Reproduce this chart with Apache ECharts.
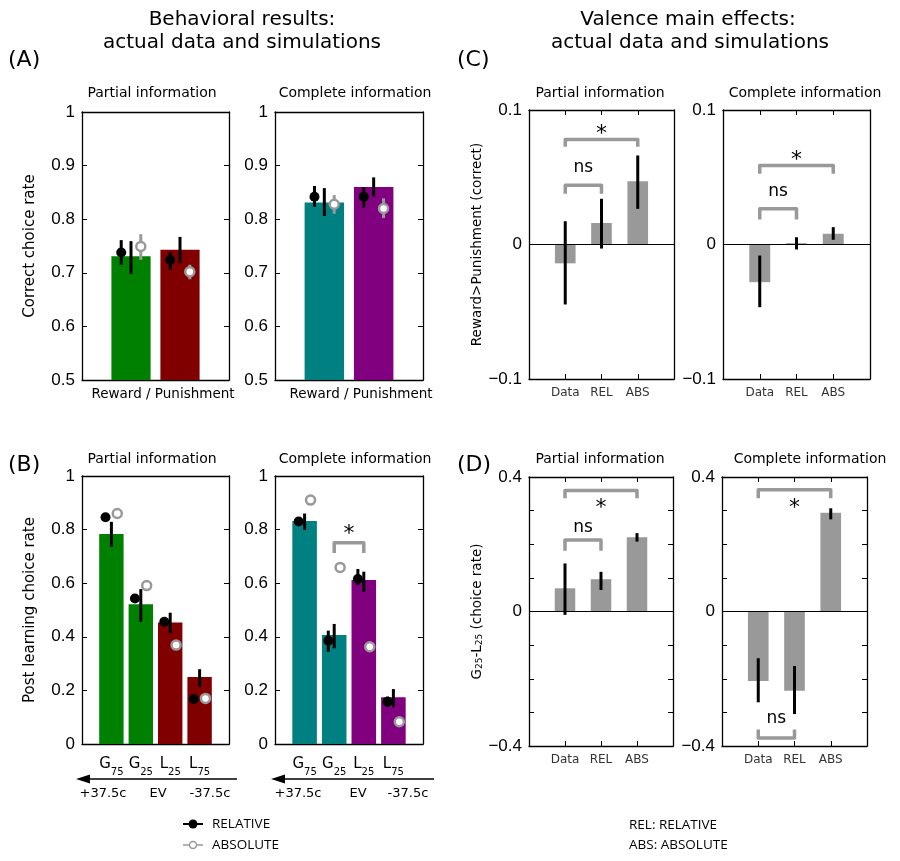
<!DOCTYPE html>
<html>
<head>
<meta charset="utf-8">
<script src="https://cdn.jsdelivr.net/npm/echarts@6/dist/echarts.min.js"></script>
<style>html,body{margin:0;padding:0;background:#fff;}#c{width:900px;height:861px;}</style>
</head>
<body>
<div id="c"></div>
<script>
// ---------------- DATA ----------------
// Panel A: correct choice rate (Reward / Punishment)
const aPartialBars   = [0.731, 0.743];
const aPartialBarErr = [[0.698, 0.759], [0.718, 0.767]];
const aPartialRel    = [0.738, 0.724];
const aPartialRelErr = [[0.715, 0.761], [0.705, 0.739]];
const aPartialAbs    = [0.749, 0.702];
const aPartialAbsErr = [[0.724, 0.772], [0.688, 0.715]];

const aCompleteBars   = [0.831, 0.860];
const aCompleteBarErr = [[0.806, 0.858], [0.842, 0.878]];
const aCompleteRel    = [0.842, 0.842];
const aCompleteRelErr = [[0.823, 0.862], [0.822, 0.860]];
const aCompleteAbs    = [0.828, 0.820];
const aCompleteAbsErr = [[0.810, 0.845], [0.802, 0.839]];

// Panel B: post learning choice rate (G75, G25, L25, L75)
const bCategories     = [['G', '75'], ['G', '25'], ['L', '25'], ['L', '75']];
const bPartialBars    = [0.784, 0.521, 0.453, 0.250];
const bPartialBarErr  = [[0.736, 0.829], [0.456, 0.578], [0.413, 0.490], [0.214, 0.279]];
const bPartialRel     = [0.846, 0.543, 0.456, 0.168];
const bPartialAbs     = [0.860, 0.591, 0.369, 0.170];

const bCompleteBars   = [0.832, 0.407, 0.612, 0.174];
const bCompleteBarErr = [[0.799, 0.860], [0.357, 0.448], [0.568, 0.643], [0.137, 0.205]];
const bCompleteRel    = [0.830, 0.385, 0.616, 0.158];
const bCompleteRelErr = [[0.815, 0.845], [0.344, 0.423], [0.593, 0.653], [0.139, 0.177]];
const bCompleteAbs    = [0.910, 0.659, 0.363, 0.083];

// Panels C/D: Data, REL, ABS
const cdCategories   = ['Data', 'REL', 'ABS'];
const cPartial       = [-0.014, 0.016, 0.047];
const cPartialErr    = [[-0.0446, 0.0173], [-0.003, 0.034], [0.0265, 0.0662]];
const cComplete      = [-0.028, 0.001, 0.008];
const cCompleteErr   = [[-0.0466, -0.0082], [-0.0037, 0.0054], [0.0035, 0.0129]];
const dPartial       = [0.069, 0.096, 0.221];
const dPartialErr    = [[-0.010, 0.143], [0.064, 0.118], [0.208, 0.233]];
const dComplete      = [-0.207, -0.236, 0.294];
const dCompleteErr   = [[-0.270, -0.139], [-0.305, -0.162], [0.274, 0.307]];

// Significance brackets: [fromCat, toCat, barLevel, legEnd, textLevel], labels
const bCompleteSig   = [[2, 3, 0.751, 0.713, 0.800]];
const bCompleteSigTx = ['*'];
const cPartialSig    = [[1, 2, 0.044, 0.0377, 0.057], [1, 3, 0.078, 0.0727, 0.086]];
const cPartialSigTx  = ['ns', '*'];
const cCompleteSig   = [[1, 2, 0.0265, 0.0186, 0.039], [1, 3, 0.0587, 0.0526, 0.066]];
const cCompleteSigTx = ['ns', '*'];
const dPartialSig    = [[1, 2, 0.213, 0.181, 0.250], [1, 3, 0.360, 0.337, 0.322]];
const dPartialSigTx  = ['ns', '*'];
const dCompleteSig   = [[1, 3, 0.362, 0.337, 0.322], [1, 2, -0.376, -0.351, -0.318]];
const dCompleteSigTx = ['*', 'ns'];

// ---------------- STYLE ----------------
const FONT = "'DejaVu Sans', sans-serif";
const NUMFONT = "'Liberation Sans', Arial, sans-serif";
const SANS2 = "'Open Sans', 'Noto Sans', sans-serif";
const GREEN = '#008000', RED = '#800000', TEAL = '#008080', PURPLE = '#800080';
const GREY = '#999999', BARGREY = '#999999';

const grids = [
  {left: 82,  top: 112, width: 147, height: 268},
  {left: 275, top: 112, width: 148, height: 268},
  {left: 82,  top: 476, width: 147, height: 268},
  {left: 275, top: 476, width: 148, height: 268},
  {left: 529, top: 110, width: 145, height: 269},
  {left: 723, top: 110, width: 147, height: 269},
  {left: 529, top: 477, width: 144, height: 269},
  {left: 722, top: 477, width: 145, height: 269}
];

const xAxes = [], yAxes = [], series = [];

function near(a, b) { return Math.abs(a - b) < 1e-9; }

function addAxes(gi, xmax, ymin, ymax, yint, yFmt, xFmt, xTicks, yName, yNameGap, yNameSize, yRich) {
  const line = {show: true, onZero: false, lineStyle: {color: '#000', width: 1.3}};
  xAxes.push({gridIndex: gi, type: 'value', position: 'bottom', min: 0, max: xmax, interval: 1,
    axisLine: line, splitLine: {show: false},
    axisTick: {show: xTicks, inside: true, length: 5, lineStyle: {color: '#000'}},
    axisLabel: {show: !!xFmt, formatter: xFmt || (() => ''), margin: 8, color: '#333', fontFamily: FONT, fontSize: 12,
      rich: {m: {fontFamily: FONT, fontSize: 15, color: '#000', verticalAlign: 'bottom', lineHeight: 20},
             s: {fontFamily: FONT, fontSize: 10, color: '#000', verticalAlign: 'bottom', lineHeight: 20, padding: [0, 0, -5, 0]}}}
  });
  xAxes.push({gridIndex: gi, type: 'value', position: 'top', min: 0, max: xmax, interval: 1,
    axisLine: line, splitLine: {show: false},
    axisTick: {show: xTicks, inside: true, length: 5, lineStyle: {color: '#000'}},
    axisLabel: {show: false}
  });
  yAxes.push({gridIndex: gi, type: 'value', position: 'left', min: ymin, max: ymax, interval: yint,
    axisLine: line, splitLine: {show: false},
    axisTick: {show: true, inside: true, length: 5, lineStyle: {color: '#000'}},
    axisLabel: {formatter: yFmt, margin: 7, color: '#000', fontFamily: NUMFONT, fontSize: 17},
    name: yName, nameLocation: 'middle', nameRotate: 90, nameGap: yNameGap,
    nameTextStyle: {fontFamily: FONT, fontSize: yNameSize, color: '#000', rich: yRich}
  });
  yAxes.push({gridIndex: gi, type: 'value', position: 'right', min: ymin, max: ymax, interval: yint,
    axisLine: line, splitLine: {show: false},
    axisTick: {show: true, inside: true, length: 5, lineStyle: {color: '#000'}},
    axisLabel: {show: false}
  });
}

function idx(gi) { return {xAxisIndex: 2 * gi, yAxisIndex: 2 * gi}; }

function addBars(gi, values, colors, width, base) {
  series.push(Object.assign({
    type: 'custom', z: 2,
    data: values.map((v, i) => [i + 1, v]),
    renderItem: function (params, api) {
      const x = api.value(0), y = api.value(1);
      const p1 = api.coord([x - width / 2, y]);
      const p0 = api.coord([x + width / 2, base]);
      return {type: 'rect',
        shape: {x: p1[0], y: Math.min(p1[1], p0[1]), width: p0[0] - p1[0], height: Math.abs(p0[1] - p1[1])},
        style: {fill: colors[params.dataIndex % colors.length]}};
    }
  }, idx(gi)));
}

function addErr(gi, errs, offset, color, lw) {
  series.push(Object.assign({
    type: 'custom', z: 3,
    data: errs.map((e, i) => [i + 1 + offset, e[0], e[1]]),
    renderItem: function (params, api) {
      const a = api.coord([api.value(0), api.value(1)]);
      const b = api.coord([api.value(0), api.value(2)]);
      return {type: 'line', shape: {x1: a[0], y1: a[1], x2: b[0], y2: b[1]},
        style: {stroke: color, lineWidth: lw}};
    }
  }, idx(gi)));
}

function addDots(gi, values, offset, hollow) {
  series.push(Object.assign({
    type: 'scatter', z: 4,
    data: values.map((v, i) => [i + 1 + offset, v]),
    symbol: 'circle',
    symbolSize: hollow ? 9 : 10,
    itemStyle: hollow ? {color: '#fff', borderColor: GREY, borderWidth: 2.5, opacity: 1} : {color: '#000', opacity: 1},
    silent: true
  }, idx(gi)));
}

function addSig(gi, sig, texts) {
  series.push(Object.assign({
    type: 'custom', z: 5,
    data: sig,
    renderItem: function (params, api) {
      const x1 = api.value(0), x2 = api.value(1), yb = api.value(2), yl = api.value(3), yt = api.value(4);
      const pa = api.coord([x1, yl]), pb = api.coord([x1, yb]), pc = api.coord([x2, yb]), pd = api.coord([x2, yl]);
      const pt = api.coord([(x1 + x2) / 2, yt]);
      const t = texts[params.dataIndex];
      return {type: 'group', children: [
        {type: 'polyline', shape: {points: [pa, pb, pc, pd]},
          style: {stroke: GREY, lineWidth: 3.5, fill: null, lineJoin: 'round'}},
        {type: 'text', style: {text: t, x: pt[0], y: pt[1] + (t === '*' ? 5 : 0),
          textAlign: 'center', textVerticalAlign: 'middle', align: 'center', verticalAlign: 'middle',
          font: (t === '*' ? '22px ' : '17px ') + FONT, fill: '#000'}}
      ]};
    }
  }, idx(gi)));
}

function addZero(gi, xmax) {
  series.push(Object.assign({
    type: 'line', z: 3, symbol: 'none', silent: true,
    data: [[0, 0], [xmax, 0]],
    lineStyle: {color: '#000', width: 1.2}
  }, idx(gi)));
}

// ---------- formatters ----------
const fmtA = v => near(v, 1) ? '1' : v.toFixed(1);
const fmtB = v => near(v, 0) ? '0' : near(v, 1) ? '1' : v.toFixed(1);
const fmtC = v => near(v, 0) ? '0' : near(v, 0.1) ? '0.1' : near(v, -0.1) ? '\u22120.1' : '';
const fmtD = v => near(v, 0) ? '0' : near(v, 0.4) ? '0.4' : near(v, -0.4) ? '\u22120.4' : '';
const fmtBx = v => { const c = bCategories[Math.round(v) - 1]; return (c && near(v, Math.round(v))) ? '{m|' + c[0] + '}{s|' + c[1] + '}' : ''; };
const fmtCDx = v => { const c = cdCategories[Math.round(v) - 1]; return (c && near(v, Math.round(v))) ? c : ''; };

const dRich = {m: {fontFamily: FONT, fontSize: 13.5, color: '#000'}, s: {fontFamily: FONT, fontSize: 9, color: '#000', padding: [0, 0, -6, 0]}};

// ---------- Panel A ----------
addAxes(0, 3, 0.5, 1, 0.1, fmtA, null, false, 'Correct choice rate', 44, 15);
addAxes(1, 3, 0.5, 1, 0.1, fmtA, null, false, '', 40, 15);
// ---------- Panel B ----------
addAxes(2, 5, 0, 1, 0.2, fmtB, fmtBx, false, 'Post learning choice rate', 44, 15);
addAxes(3, 5, 0, 1, 0.2, fmtB, fmtBx, false, '', 40, 15);
// ---------- Panel C ----------
addAxes(4, 4, -0.1, 0.1, 0.1, fmtC, fmtCDx, true, 'Reward>Punishment (correct)', 45, 13.5);
addAxes(5, 4, -0.1, 0.1, 0.1, fmtC, fmtCDx, true, '', 40, 13);
// ---------- Panel D ----------
addAxes(6, 4, -0.4, 0.4, 0.1, fmtD, fmtCDx, true, '{m|G}{s|25}{m|-L}{s|25}{m| (choice rate)}', 45, 13.5, dRich);
addAxes(7, 4, -0.4, 0.4, 0.1, fmtD, fmtCDx, true, '', 40, 13);

// A partial
addBars(0, aPartialBars, [GREEN, RED], 0.8, 0.5);
addErr(0, aPartialBarErr, 0, '#000', 3);
addErr(0, aPartialRelErr, -0.2, '#000', 3);
addErr(0, aPartialAbsErr, 0.2, GREY, 3);
addDots(0, aPartialRel, -0.2, false);
addDots(0, aPartialAbs, 0.2, true);
// A complete
addBars(1, aCompleteBars, [TEAL, PURPLE], 0.8, 0.5);
addErr(1, aCompleteBarErr, 0, '#000', 3);
addErr(1, aCompleteRelErr, -0.2, '#000', 3);
addErr(1, aCompleteAbsErr, 0.2, GREY, 3);
addDots(1, aCompleteRel, -0.2, false);
addDots(1, aCompleteAbs, 0.2, true);
// B partial
addBars(2, bPartialBars, [GREEN, GREEN, RED, RED], 0.83, 0);
addErr(2, bPartialBarErr, 0, '#000', 3);
addDots(2, bPartialRel, -0.2, false);
addDots(2, bPartialAbs, 0.2, true);
// B complete
addBars(3, bCompleteBars, [TEAL, TEAL, PURPLE, PURPLE], 0.83, 0);
addErr(3, bCompleteBarErr, 0, '#000', 3);
addErr(3, bCompleteRelErr, -0.2, '#000', 3);
addDots(3, bCompleteRel, -0.2, false);
addDots(3, bCompleteAbs, 0.2, true);
addSig(3, bCompleteSig, bCompleteSigTx);
// C
addBars(4, cPartial, [BARGREY], 0.57, 0);
addZero(4, 4);
addErr(4, cPartialErr, 0, '#000', 3);
addSig(4, cPartialSig, cPartialSigTx);
addBars(5, cComplete, [BARGREY], 0.57, 0);
addZero(5, 4);
addErr(5, cCompleteErr, 0, '#000', 3);
addSig(5, cCompleteSig, cCompleteSigTx);
// D
addBars(6, dPartial, [BARGREY], 0.57, 0);
addZero(6, 4);
addErr(6, dPartialErr, 0, '#000', 3);
addSig(6, dPartialSig, dPartialSigTx);
addBars(7, dComplete, [BARGREY], 0.57, 0);
addZero(7, 4);
addErr(7, dCompleteErr, 0, '#000', 3);
addSig(7, dCompleteSig, dCompleteSigTx);

// ---------- Texts / decorations ----------
function txt(text, x, y, size, opts) {
  return Object.assign({type: 'text', x: x, y: y, silent: true,
    style: Object.assign({text: text, font: size + 'px ' + FONT, fill: '#000',
      textAlign: 'center', textVerticalAlign: 'middle'}, opts || {})});
}
const graphic = [
  txt('Behavioral results:', 242, 20, 20),
  txt('actual data and simulations', 242, 43, 20),
  txt('Valence main effects:', 688, 20, 20),
  txt('actual data and simulations', 690, 43, 20),
  txt('(A)', 8, 60, 22, {textAlign: 'left'}),
  txt('(B)', 8, 465, 22, {textAlign: 'left'}),
  txt('(C)', 457, 60, 22, {textAlign: 'left'}),
  txt('(D)', 457, 465, 22, {textAlign: 'left'}),
  txt('Partial information', 152, 93, 14),
  txt('Complete information', 355, 93, 14),
  txt('Partial information', 152, 459, 14),
  txt('Complete information', 355, 459, 14),
  txt('Partial information', 600, 93, 14),
  txt('Complete information', 805, 93, 14),
  txt('Partial information', 600, 459, 14),
  txt('Complete information', 810, 459, 14),
  txt('Reward / Punishment', 163, 394, 13.5),
  txt('Reward / Punishment', 361, 394, 13.5),
  txt('+37.5c', 103, 794, 13),
  txt('EV', 158, 794, 13),
  txt('-37.5c', 210, 794, 13),
  txt('+37.5c', 298, 794, 13),
  txt('EV', 358, 794, 13),
  txt('-37.5c', 408, 794, 13),
  {type: 'line', silent: true, shape: {x1: 237, y1: 779, x2: 88, y2: 779}, style: {stroke: '#000', lineWidth: 1.5}},
  {type: 'polygon', silent: true, shape: {points: [[76, 779], [90, 774.5], [90, 783.5]]}, style: {fill: '#000'}},
  {type: 'line', silent: true, shape: {x1: 434, y1: 779, x2: 284, y2: 779}, style: {stroke: '#000', lineWidth: 1.5}},
  {type: 'polygon', silent: true, shape: {points: [[271, 779], [285, 774.5], [285, 783.5]]}, style: {fill: '#000'}},
  // legend
  {type: 'line', silent: true, shape: {x1: 183, y1: 824, x2: 203, y2: 824}, style: {stroke: '#000', lineWidth: 2}},
  {type: 'circle', silent: true, shape: {cx: 193, cy: 824, r: 4.5}, style: {fill: '#000'}},
  txt('RELATIVE', 212, 824, 13, {textAlign: 'left', font: '13.5px ' + SANS2}),
  {type: 'line', silent: true, shape: {x1: 183, y1: 845, x2: 203, y2: 845}, style: {stroke: GREY, lineWidth: 1.5}},
  {type: 'circle', silent: true, shape: {cx: 193, cy: 845, r: 3.5}, style: {fill: '#fff', stroke: GREY, lineWidth: 1.5}},
  txt('ABSOLUTE', 212, 845, 13, {textAlign: 'left', font: '13.5px ' + SANS2}),
  txt('REL: RELATIVE', 629, 825, 13, {textAlign: 'left', font: '13.5px ' + SANS2}),
  txt('ABS: ABSOLUTE', 629, 845, 13, {textAlign: 'left', font: '13.5px ' + SANS2})
];

const chart = echarts.init(document.getElementById('c'), null, {renderer: 'canvas'});
chart.setOption({
  animation: false,
  backgroundColor: '#fff',
  grid: grids.map(g => Object.assign({containLabel: false}, g)),
  xAxis: xAxes,
  yAxis: yAxes,
  series: series,
  graphic: graphic
});
</script>
</body>
</html>
